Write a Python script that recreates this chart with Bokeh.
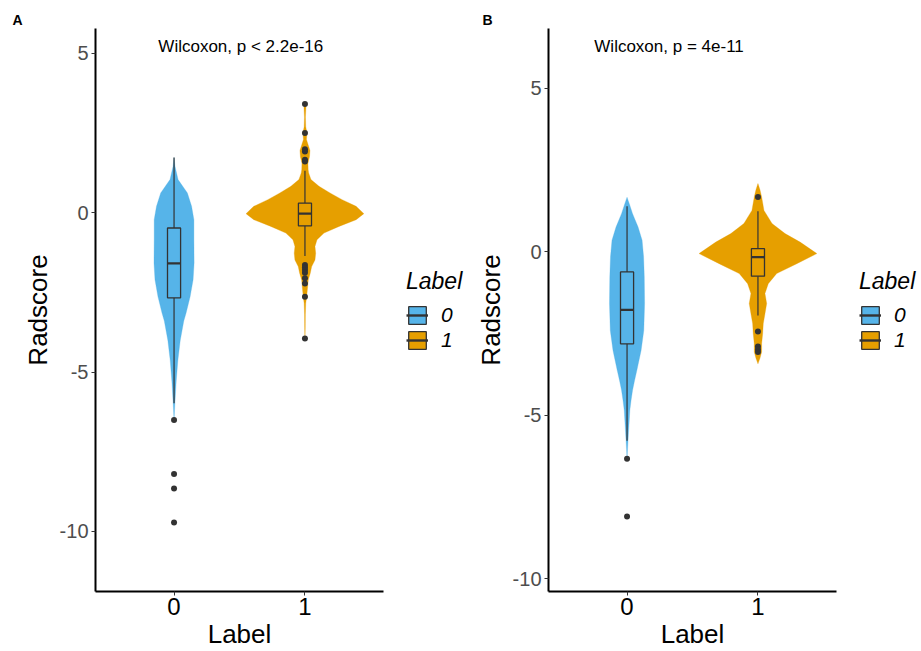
import numpy as np
from bokeh.plotting import figure
from bokeh.layouts import row
from bokeh.models import (FixedTicker, Label, Legend, LegendItem, Range1d,
                          LinearAxis)
from bokeh.embed import file_html
from bokeh.resources import INLINE

FONT = "Liberation Sans"

# ---------------- data ----------------
categories = ["0", "1"]
colors = ["#56B4E9", "#E69F00"]
y_ticks = [-10, -5, 0, 5]
y_tick_labels = ["-10", "-5", "0", "5"]
x_title = "Label"
y_title = "Radscore"

# Panel A  (box statistics per category)
a_whi = [1.73, 1.32]
a_q3 = [-0.48, 0.30]
a_med = [-1.59, -0.03]
a_q1 = [-2.67, -0.41]
a_wlo = [-5.98, -1.36]
a_out_0 = [-6.50, -8.20, -8.65, -9.72]
a_out_1 = [3.41, 2.50, 1.99, 1.92, 1.66, 1.61, -1.64, -1.72, -1.80, -1.88,
           -2.06, -2.22, -2.64, -3.95]
# violin density profiles (value, relative density)
a_vio_0_y = [1.73, 1.45, 1.04, 0.62, 0.20, -0.22, -0.85, -1.58, -2.10, -2.64,
             -3.15, -3.40, -4.00, -4.64, -5.27, -5.90, -6.50]
a_vio_0_d = [0.0, 1.0, 4.0, 13.3, 17.5, 19.8, 19.8, 20.0, 19.0, 16.0,
             12.0, 9.7, 6.2, 3.8, 2.2, 1.0, 0.0]
a_vio_1_y = [3.42, 3.30, 3.00, 2.70, 2.50, 2.30, 2.10, 1.95, 1.75, 1.55, 1.35,
             1.25, 1.04, 0.83, 0.62, 0.41, 0.20, -0.03, -0.22, -0.43, -0.64,
             -0.85, -1.06, -1.27, -1.48, -1.69, -1.90, -2.11, -2.32, -2.64,
             -2.84, -3.20, -3.60, -3.97]
a_vio_1_d = [0.0, 1.0, 0.5, 0.8, 2.0, 1.5, 3.5, 5.0, 4.5, 3.0, 3.2,
             3.7, 6.0, 14.0, 25.0, 37.0, 51.0, 58.7, 51.0, 34.0, 19.0,
             12.0, 10.0, 10.7, 10.0, 6.7, 5.3, 3.3, 2.7, 1.7,
             0.8, 0.4, 0.3, 0.0]
a_test = "Wilcoxon, p < 2.2e-16"

# Panel B
b_whi = [1.39, 1.23]
b_q3 = [-0.62, 0.09]
b_med = [-1.78, -0.17]
b_q1 = [-2.82, -0.75]
b_wlo = [-5.78, -1.95]
b_out_0 = [-6.33, -8.10]
b_out_1 = [1.67, -2.44, -2.90, -2.99, -3.07]
b_vio_0_y = [1.66, 1.44, 1.16, 0.75, 0.35, -0.16, -0.78, -1.59, -2.41, -3.02,
             -3.63, -3.94, -4.24, -4.55, -4.85, -5.16, -5.77, -6.33]
b_vio_0_d = [0.0, 2.5, 5.5, 11.0, 15.0, 16.5, 17.2, 17.5, 16.7, 14.0,
             9.8, 7.5, 5.5, 4.0, 2.8, 2.2, 1.0, 0.0]
b_vio_1_y = [2.08, 1.89, 1.67, 1.26, 0.86, 0.55, 0.29, -0.06, -0.37, -0.67,
             -0.98, -1.28, -1.59, -1.90, -2.20, -2.51, -2.81, -3.07, -3.26, -3.43]
b_vio_1_d = [0.0, 2.0, 3.7, 6.0, 14.0, 27.0, 42.0, 58.7, 38.7, 18.7,
             10.3, 7.0, 8.7, 7.0, 5.3, 4.7, 3.7, 3.7, 2.0, 0.0]
b_test = "Wilcoxon, p = 4e-11"

X_LO, X_HI = 0.4, 2.6      # discrete axis extent (ggplot-like expansion)
PANEL_W = 288              # pixel width of the x axis


def make_panel(letter, whi, q3, med, q1, wlo, outs, vio_y, vio_d, test,
               test_xy, yr, width, border_left):
    frame_w = width - border_left
    x_end = X_LO + (X_HI - X_LO) * frame_w / PANEL_W
    p = figure(width=width, height=651, x_range=Range1d(X_LO, x_end),
               y_range=Range1d(*yr), output_backend="svg",
               toolbar_location=None, min_border_left=border_left,
               min_border_right=0, min_border_top=28,
               min_border_bottom=60)
    p.grid.visible = False
    p.outline_line_color = None
    p.background_fill_color = "white"
    p.border_fill_color = "white"

    # panel tag as title
    p.title.text = letter
    p.title.text_font = FONT
    p.title.text_font_size = "14px"
    p.title.text_font_style = "bold"
    p.title.text_color = "black"
    p.title.align = "left"
    p.title.offset = 12 - border_left
    p.title.standoff = 2

    pos = [i + 1 for i in range(len(categories))]
    dmax = max(max(d) for d in vio_d)
    box_rs, med_rs = [], []
    for i, x in enumerate(pos):
        y = np.array(vio_y[i])
        d = np.array(vio_d[i]) * 0.45 / dmax
        xs = np.concatenate([x + d, (x - d)[::-1]])
        ys = np.concatenate([y, y[::-1]])
        p.patch(xs, ys, fill_color=colors[i], line_color=colors[i],
                line_width=0.5, line_alpha=0.6)
    hw = 0.05
    for i, x in enumerate(pos):
        p.segment(x0=[x, x], y0=[q3[i], q1[i]], x1=[x, x], y1=[whi[i], wlo[i]],
                  line_color="#333333", line_width=1.2)
        br = p.quad(left=[x - hw], right=[x + hw], bottom=[q1[i]], top=[q3[i]],
                    fill_color=colors[i], line_color="#333333", line_width=1.3)
        mr = p.segment(x0=[x - hw], x1=[x + hw], y0=[med[i]], y1=[med[i]],
                       line_color="#333333", line_width=2.4)
        p.scatter([x] * len(outs[i]), outs[i], size=6, fill_color="#333333",
                  line_color=None)
        box_rs.append(br)
        med_rs.append(mr)

    # axes
    for ax in (p.xaxis[0], p.yaxis[0]):
        ax.axis_line_width = 2
        ax.axis_line_color = "black"
        ax.major_tick_line_color = "#333333"
        ax.major_tick_line_width = 1
        ax.major_tick_out = 4
        ax.major_tick_in = 0
        ax.minor_tick_line_color = None
        ax.axis_label_text_font = FONT
        ax.axis_label_text_font_style = "normal"
        ax.axis_label_text_font_size = "26px"
        ax.axis_label_text_color = "black"
        ax.major_label_text_font = FONT
    p.xaxis.bounds = (X_LO, X_HI)
    p.xaxis.ticker = FixedTicker(ticks=pos)
    p.xaxis.major_label_overrides = {pos[i]: c for i, c in enumerate(categories)}
    p.xaxis.major_label_text_font_size = "24px"
    p.xaxis.major_label_text_color = "black"
    p.xaxis.major_label_standoff = 2

    # x title centred on the panel's axis extent (second, bare axis below)
    mid = (X_LO + X_HI) / 2
    title_axis = LinearAxis(ticker=FixedTicker(ticks=[mid]),
                            major_label_overrides={mid: x_title},
                            bounds=(X_LO, X_HI),
                            axis_line_color=None, major_tick_line_color=None,
                            minor_tick_line_color=None,
                            major_tick_in=0, major_tick_out=0,
                            major_label_standoff=1,
                            major_label_text_font=FONT,
                            major_label_text_font_size="26px",
                            major_label_text_color="black")
    p.add_layout(title_axis, "below")

    p.yaxis.ticker = FixedTicker(ticks=y_ticks)
    p.yaxis.major_label_overrides = {t: l for t, l in zip(y_ticks, y_tick_labels)}
    p.yaxis.major_label_text_font_size = "20px"
    p.yaxis.major_label_text_color = "#4D4D4D"
    p.yaxis.major_label_standoff = 3
    p.yaxis.axis_label = y_title
    p.yaxis.axis_label_standoff = 4

    # test annotation
    p.add_layout(Label(x=test_xy[0], y=test_xy[1], text=test,
                       text_font=FONT, text_font_size="17px",
                       text_baseline="middle", text_align="left",
                       text_color="black"))

    legend = Legend(items=[LegendItem(label=categories[i],
                                      renderers=[box_rs[i], med_rs[i]])
                           for i in range(len(categories))],
                    location=(311, 239), title="Label",
                    title_text_font=FONT, title_text_font_size="23px",
                    title_text_font_style="italic", title_standoff=8,
                    title_text_color="black",
                    label_text_font=FONT, label_text_font_size="21px",
                    label_text_font_style="italic", label_standoff=13,
                    label_text_color="black",
                    glyph_width=22, glyph_height=22, label_height=22,
                    spacing=1, padding=0, margin=0,
                    background_fill_alpha=0, border_line_color=None)
    p.add_layout(legend)
    return p


pA = make_panel("A", a_whi, a_q3, a_med, a_q1, a_wlo, [a_out_0, a_out_1],
                [a_vio_0_y, a_vio_1_y], [a_vio_0_d, a_vio_1_d], a_test,
                (0.88, 5.23), (-11.885, 5.78), 470, 95)
pB = make_panel("B", b_whi, b_q3, b_med, b_q1, b_wlo, [b_out_0, b_out_1],
                [b_vio_0_y, b_vio_1_y], [b_vio_0_d, b_vio_1_d], b_test,
                (0.75, 6.28), (-10.39, 6.82), 451, 78)

layout = row(pA, pB)
open("out.html", "w").write(file_html(layout, INLINE))
